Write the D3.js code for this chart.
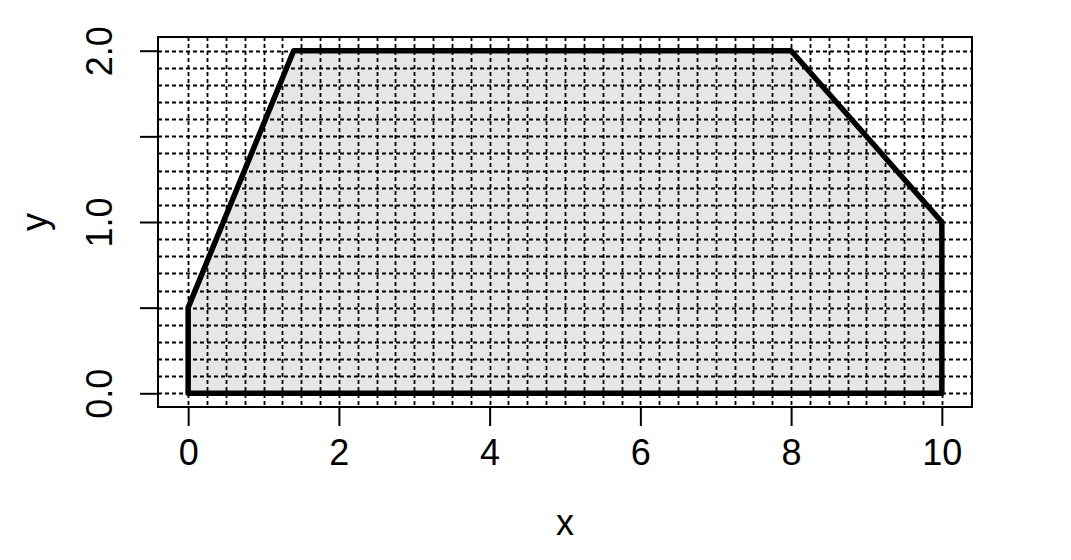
<!DOCTYPE html>
<html>
<head>
<meta charset="utf-8">
<script src="https://cdn.jsdelivr.net/npm/d3@7"></script>
<style>
  html, body { margin: 0; padding: 0; background: #ffffff; }
  svg { display: block; }
  text { font-family: "Liberation Sans", Arial, Helvetica, sans-serif; fill: #000; }
</style>
</head>
<body>
<script>
// ---- data ----
const polyX = [0, 0, 1.4, 8, 10, 10];
const polyY = [0, 0.5, 2, 2, 1, 0];
const xTicks = [0, 2, 4, 6, 8, 10];
const xTickLabels = ["0", "2", "4", "6", "8", "10"];
const yTicks = [0, 0.5, 1, 1.5, 2];
const yTickLabels = ["0.0", "", "1.0", "", "2.0"];
const xGridStep = 0.25;
const yGridStep = 0.1;
const xTitle = "x";
const yTitle = "y";

// ---- layout ----
const W = 1071, H = 560;
const box = { left: 158, right: 972, top: 37, bottom: 407 };
const xDom = [0, 10], yDom = [0, 2];
const xPad = (xDom[1] - xDom[0]) * 0.04, yPad = (yDom[1] - yDom[0]) * 0.04;

const x = d3.scaleLinear().domain([xDom[0] - xPad, xDom[1] + xPad]).range([box.left, box.right]);
const y = d3.scaleLinear().domain([yDom[0] - yPad, yDom[1] + yPad]).range([box.bottom, box.top]);

const svg = d3.select("body").append("svg").attr("width", W).attr("height", H);

svg.append("defs").append("clipPath").attr("id", "plotclip")
  .append("rect").attr("x", box.left).attr("y", box.top)
  .attr("width", box.right - box.left).attr("height", box.bottom - box.top);

const plot = svg.append("g").attr("clip-path", "url(#plotclip)");

// polygon
const pts = polyX.map((v, i) => [x(v), y(polyY[i])]);
plot.append("path")
  .attr("d", d3.line()(pts) + "Z")
  .attr("fill", "#e6e6e6")
  .attr("stroke", "#000")
  .attr("stroke-width", 5.5)
  .attr("stroke-linejoin", "round");

// grid
const gx = d3.range(xDom[0], xDom[1] + 1e-9, xGridStep);
const gy = d3.range(yDom[0], yDom[1] + 1e-9, yGridStep);
plot.append("g").selectAll("line").data(gx).join("line")
  .attr("x1", d => Math.round(x(d)) + 0.5).attr("x2", d => Math.round(x(d)) + 0.5)
  .attr("y1", box.top).attr("y2", box.bottom)
  .attr("stroke", "#000").attr("stroke-width", 1.8).attr("stroke-dasharray", "4,3");
plot.append("g").selectAll("line").data(gy).join("line")
  .attr("y1", d => Math.round(y(d)) + 0.5).attr("y2", d => Math.round(y(d)) + 0.5)
  .attr("x1", box.left).attr("x2", box.right)
  .attr("stroke", "#000").attr("stroke-width", 1.8).attr("stroke-dasharray", "4,3");

// box
svg.append("rect")
  .attr("x", box.left).attr("y", box.top)
  .attr("width", box.right - box.left).attr("height", box.bottom - box.top)
  .attr("fill", "none").attr("stroke", "#000").attr("stroke-width", 2);

// x axis
const xAxis = d3.axisBottom(x).tickValues(xTicks)
  .tickFormat((d, i) => xTickLabels[i]).tickSize(19).tickPadding(13);
const gxA = svg.append("g").attr("transform", `translate(0,${box.bottom})`).call(xAxis);
gxA.select(".domain").attr("d", `M${x(xDom[0])},0H${x(xDom[1])}`).attr("stroke-width", 2);
gxA.selectAll(".tick line").attr("stroke-width", 2);
gxA.selectAll(".tick text").attr("font-size", 36).attr("font-family", "Liberation Sans, Arial, sans-serif").attr("fill", "#000");

// y axis
const yAxis = d3.axisLeft(y).tickValues(yTicks)
  .tickFormat((d, i) => yTickLabels[i]).tickSize(18).tickPadding(0);
const gyA = svg.append("g").attr("transform", `translate(${box.left},0)`).call(yAxis);
gyA.select(".domain").attr("d", `M0,${y(yDom[0])}V${y(yDom[1])}`).attr("stroke-width", 2);
gyA.selectAll(".tick line").attr("stroke-width", 2);
gyA.selectAll(".tick text")
  .attr("font-size", 36).attr("font-family", "Liberation Sans, Arial, sans-serif").attr("fill", "#000")
  .attr("x", null).attr("dy", null)
  .attr("text-anchor", "middle")
  .attr("transform", `translate(${112 - box.left},0) rotate(-90)`);

// titles
svg.append("text").attr("x", (box.left + box.right) / 2).attr("y", 535)
  .attr("text-anchor", "middle").attr("font-size", 36).text(xTitle);
svg.append("text")
  .attr("transform", `translate(47,${(box.top + box.bottom) / 2}) rotate(-90)`)
  .attr("text-anchor", "middle").attr("font-size", 36).text(yTitle);
</script>
</body>
</html>
